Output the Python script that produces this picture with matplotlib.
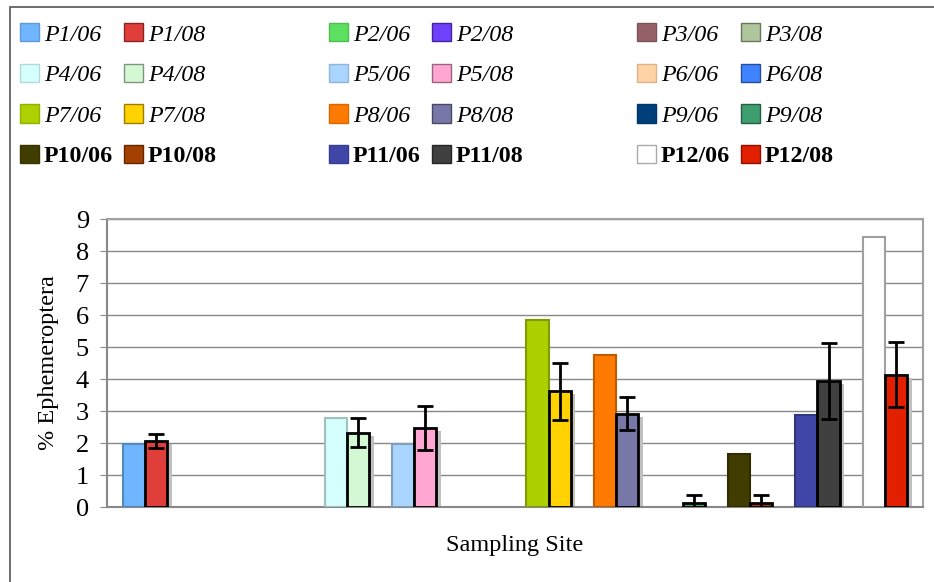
import numpy as np
import matplotlib
matplotlib.use("Agg")
import matplotlib.pyplot as plt
import matplotlib.colors as mcolors
from matplotlib.patches import Patch, Rectangle

plt.rcParams['font.family'] = ['Liberation Serif', 'DejaVu Serif']

# data
sites = ['P1', 'P2', 'P3', 'P4', 'P5', 'P6', 'P7', 'P8', 'P9', 'P10', 'P11', 'P12']
vals_06 = [1.98, 0, 0, 2.79, 1.96, 0, 5.83, 4.74, 0, 1.67, 2.86, 8.44]
vals_08 = [2.06, 0, 0, 2.32, 2.47, 0, 3.62, 2.92, 0.14, 0.14, 3.93, 4.14]
err_08 = [0.23, 0, 0, 0.45, 0.68, 0, 0.89, 0.51, 0.22, 0.22, 1.18, 1.02]

colors_06 = ['#6fb5ff', '#5de060', '#946266', '#d5fffd', '#a9d5ff', '#ffd4a4',
             '#acd000', '#ff7a00', '#003f7a', '#413c00', '#4046a8', '#ffffff']
colors_08 = ['#e03e3b', '#7040ff', '#afc59b', '#d4f7d4', '#ffa6d2', '#4083ff',
             '#ffd200', '#7878a8', '#3e9e70', '#a54100', '#404040', '#e22000']


def darker(c, f=0.75):
    r, g, b = mcolors.to_rgb(c)
    return (r * f, g * f, b * f)


fig = plt.figure(figsize=(9.34, 5.82), dpi=100)
# outer frame of the chart
fig.patches.append(Rectangle((10 / 934, -0.05), 1.2, 1 - 7 / 582 + 0.05,
                             transform=fig.transFigure, fill=False,
                             edgecolor='#555555', linewidth=1.2))

ax = fig.add_axes([107 / 934, 1 - 507 / 582, 816 / 934, 288 / 582])

x = np.arange(len(sites))
w = 0.33
edges_06 = [darker(c) if c != '#ffffff' else '#a0a0a0' for c in colors_06]
lw_06 = [1.5 if v > 0 else 0 for v in vals_06]
lw_08 = [2 if v > 0 else 0 for v in vals_08]

# shadow behind the 08 bars
ax.bar(x + w / 2 + 0.07, np.maximum(np.array(vals_08) - 0.1, 0), w,
       color='#c0c0c0', zorder=2)
ax.bar(x - w / 2, vals_06, w, color=colors_06, edgecolor=edges_06,
       linewidth=lw_06, zorder=3)
ax.bar(x + w / 2, vals_08, w, color=colors_08, edgecolor='black',
       linewidth=lw_08, zorder=4)
has_err = [e > 0 for e in err_08]
ax.errorbar((x + w / 2)[has_err], np.array(vals_08)[has_err],
            yerr=np.array(err_08)[has_err], fmt='none', ecolor='black',
            elinewidth=2, capsize=6, capthick=2, zorder=5)

ax.set_xlim(-0.57, 11.57)
ax.set_ylim(0, 9)
ax.set_yticks(range(10))
ax.set_xticks([])
ax.yaxis.grid(True, color='#888888', linewidth=1)
ax.set_axisbelow(True)
for s in ['top', 'right']:
    ax.spines[s].set_color('#a0a0a0')
    ax.spines[s].set_linewidth(1.5)
ax.spines['left'].set_color('#888888')
ax.spines['bottom'].set_color('#888888')
ax.spines['left'].set_linewidth(1.5)
ax.spines['bottom'].set_linewidth(1.5)
ax.tick_params(axis='y', labelsize=19, length=5, color='#888888', pad=8)
ax.set_ylabel('% Ephemeroptera', fontsize=17.5, labelpad=12)
ax.set_xlabel('Sampling Site', fontsize=17.5, labelpad=20)

# legend in three blocks of two columns
lx = [8 / 934, 317 / 934, 625 / 934]
for b in range(3):
    handles = []
    labels = []
    for col in range(2):
        for row in range(4):
            i = row * 3 + b
            if col == 0:
                c = colors_06[i]
                ec = '#aaaaaa' if c == '#ffffff' else darker(c, 0.85)
                handles.append(Patch(facecolor=c, edgecolor=ec))
                labels.append(sites[i] + '/06')
            else:
                c = colors_08[i]
                handles.append(Patch(facecolor=c, edgecolor=darker(c, 0.6)))
                labels.append(sites[i] + '/08')
    leg = fig.legend(handles, labels, loc='upper left',
                     bbox_to_anchor=(lx[b], 1 - 11 / 582), ncol=2,
                     frameon=False, fontsize=17.3, handlelength=0.8,
                     handleheight=0.8, handletextpad=0.2,
                     columnspacing=0.45, labelspacing=0.75, borderpad=0)
    for t in leg.get_texts():
        name = t.get_text().split('/')[0]
        if name in ('P10', 'P11', 'P12'):
            t.set_fontweight('bold')
        else:
            t.set_fontstyle('italic')

fig.savefig('out.png', dpi=100)
